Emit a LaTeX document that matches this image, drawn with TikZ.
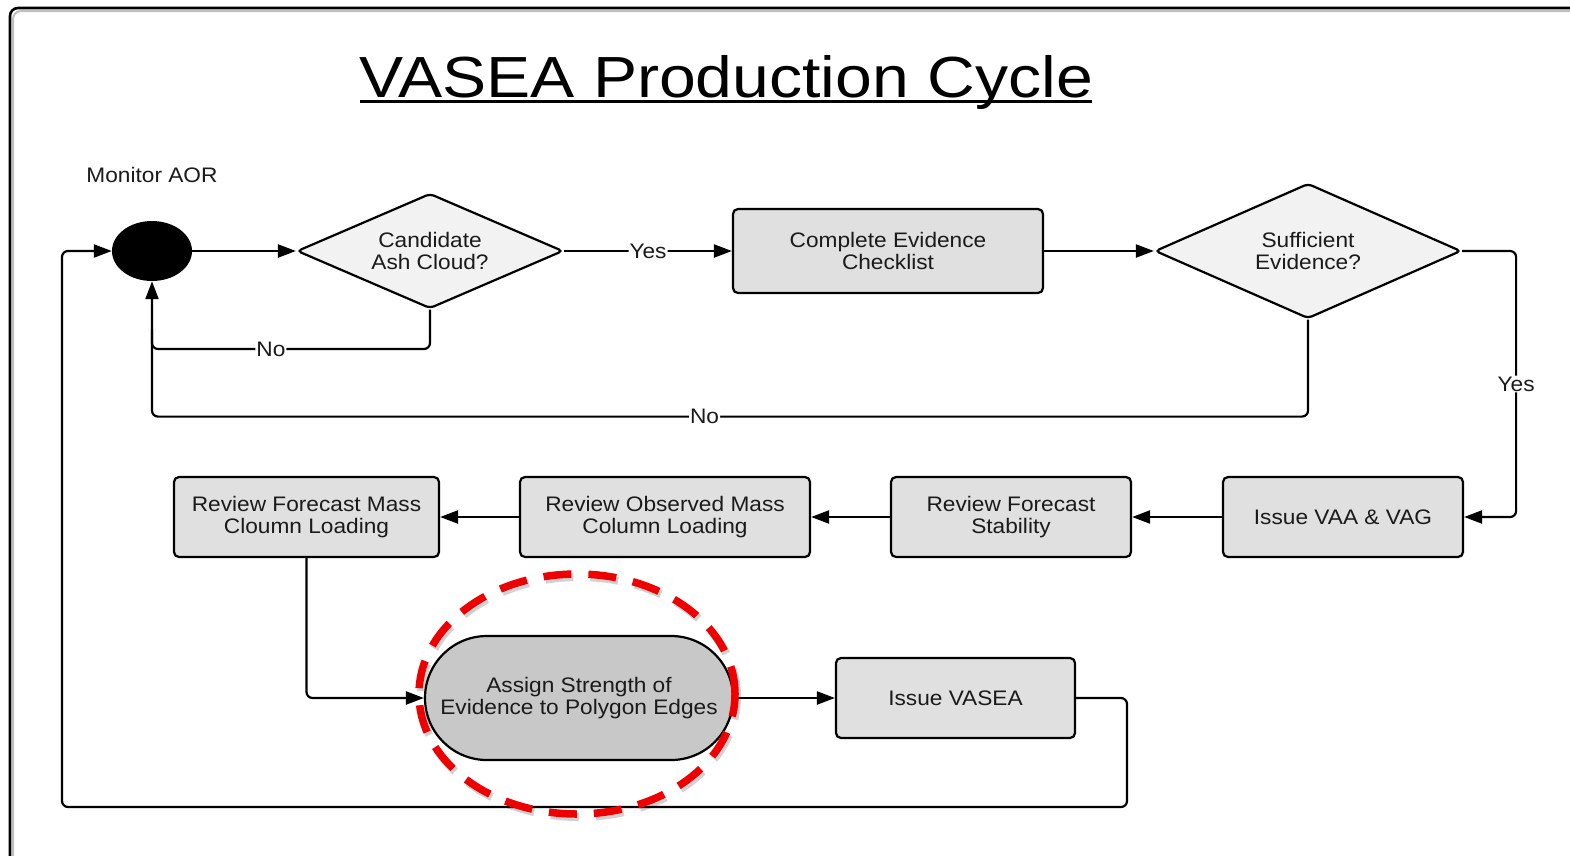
\documentclass[tikz,border=0pt]{standalone}
\usepackage{fontspec}
\setmainfont[FakeStretch=1.08]{Liberation Sans}
\newfontfamily\titlefont[FakeStretch=1.14]{Liberation Sans}
\usetikzlibrary{shapes.geometric,arrows.meta,calc}
\definecolor{boxfill}{HTML}{E0E0E0}
\definecolor{dfill}{HTML}{F2F2F2}
\definecolor{sfill}{HTML}{C8C8C8}
\definecolor{txt}{HTML}{1A1A1A}
\definecolor{hred}{HTML}{EE0000}
\begin{document}
\begin{tikzpicture}[x=1pt,y=-1pt,
 every node/.style={font=\fontsize{21}{22}\selectfont, text=txt},
 procbox/.style={draw, line width=2.2pt, fill=boxfill, rounded corners=5pt, align=center, inner sep=0pt},
 decision/.style={diamond, aspect=2.3, draw, line width=2.2pt, fill=dfill, align=center, inner sep=0pt, rounded corners=4pt},
 conn/.style={line width=2.2pt, rounded corners=6pt},
 arr/.style={conn, -{Triangle[length=18pt,width=13pt]}},
 lbl/.style={fill=white, inner sep=1pt}
]
\useasboundingbox (0,0) rectangle (1570,855);
\clip (0,0) rectangle (1570,855);
\fill[white] (0,0) rectangle (1570,855);
% frame
\draw[black!25, line width=2pt, rounded corners=8pt] (13,11) rectangle (1650,950);
\draw[line width=2.6pt, rounded corners=8pt] (10,8) rectangle (1650,950);

% title
\node[anchor=base, font=\titlefont\fontsize{58}{60}\selectfont, text=black] (title) at (726,97) {VASEA Production Cycle};
\draw[line width=3pt] (360,101) -- (1092,101);

% nodes
\node (mon) at (152,175) {Monitor AOR};
\node[ellipse, fill=black, minimum width=80pt, minimum height=60pt, inner sep=0pt] (start) at (152,251) {};
\node[decision, minimum width=266pt, minimum height=115pt] (d1) at (430,251) {Candidate\\Ash Cloud?};
\node[procbox, minimum width=310pt, minimum height=84pt] (c1) at (888,251) {Complete Evidence\\Checklist};
\node[decision, minimum width=306pt, minimum height=135pt] (d2) at (1308,251) {Sufficient\\Evidence?};
\node[procbox, minimum width=240pt, minimum height=80pt] (vaa) at (1343,517) {Issue VAA \& VAG};
\node[procbox, minimum width=240pt, minimum height=80pt] (stab) at (1011,517) {Review Forecast\\Stability};
\node[procbox, minimum width=290pt, minimum height=80pt] (obs) at (665,517) {Review Observed Mass\\Column Loading};
\node[procbox, minimum width=265pt, minimum height=80pt] (fmass) at (306.5,517) {Review Forecast Mass\\Cloumn Loading};
\node[draw, line width=2.2pt, fill=sfill, rounded corners=61.9pt, minimum width=308pt, minimum height=124pt, align=center, inner sep=0pt] (assign) at (579,698) {Assign Strength of\\Evidence to Polygon Edges};
\node[procbox, minimum width=239pt, minimum height=80pt] (vasea) at (955.5,698) {Issue VASEA};

% helper coordinates
\coordinate (j1) at (152,349);
\coordinate (r1) at (1127,807);
\coordinate (l1) at (62,807);

% connectors
\draw[arr] (start.east) -- (d1.west);
\draw[arr] (d1.east) -- node[lbl]{Yes} (c1.west);
\draw[arr] (c1.east) -- (d2.west);
\draw[arr] (d2.east) -- ++(54,0) |- node[lbl,pos=0.25]{Yes} (vaa.east);
\draw[arr] (d2.south) -- ++(0,97) -| node[lbl,pos=0.261]{No} (start.south);
\draw[conn] (d1.south) |- node[lbl,pos=0.786]{No} (j1) -- ++(0,-20);
\draw[arr] (vaa.west) -- (stab.east);
\draw[arr] (stab.west) -- (obs.east);
\draw[arr] (obs.west) -- (fmass.east);
\draw[arr] (fmass.south) |- (assign.west);
\draw[arr] (assign.east) -- (vasea.west);
\draw[arr] (vasea.east) -| (r1) -- (l1) |- (start.west);

% red highlight
\draw[black, opacity=0.18, line width=8pt, dash pattern=on 28pt off 17pt] (579,697) ellipse [x radius=158pt, y radius=120pt];
\draw[hred, line width=7.5pt, dash pattern=on 28pt off 17pt] (577,694) ellipse [x radius=158pt, y radius=120pt];
\end{tikzpicture}
\end{document}
